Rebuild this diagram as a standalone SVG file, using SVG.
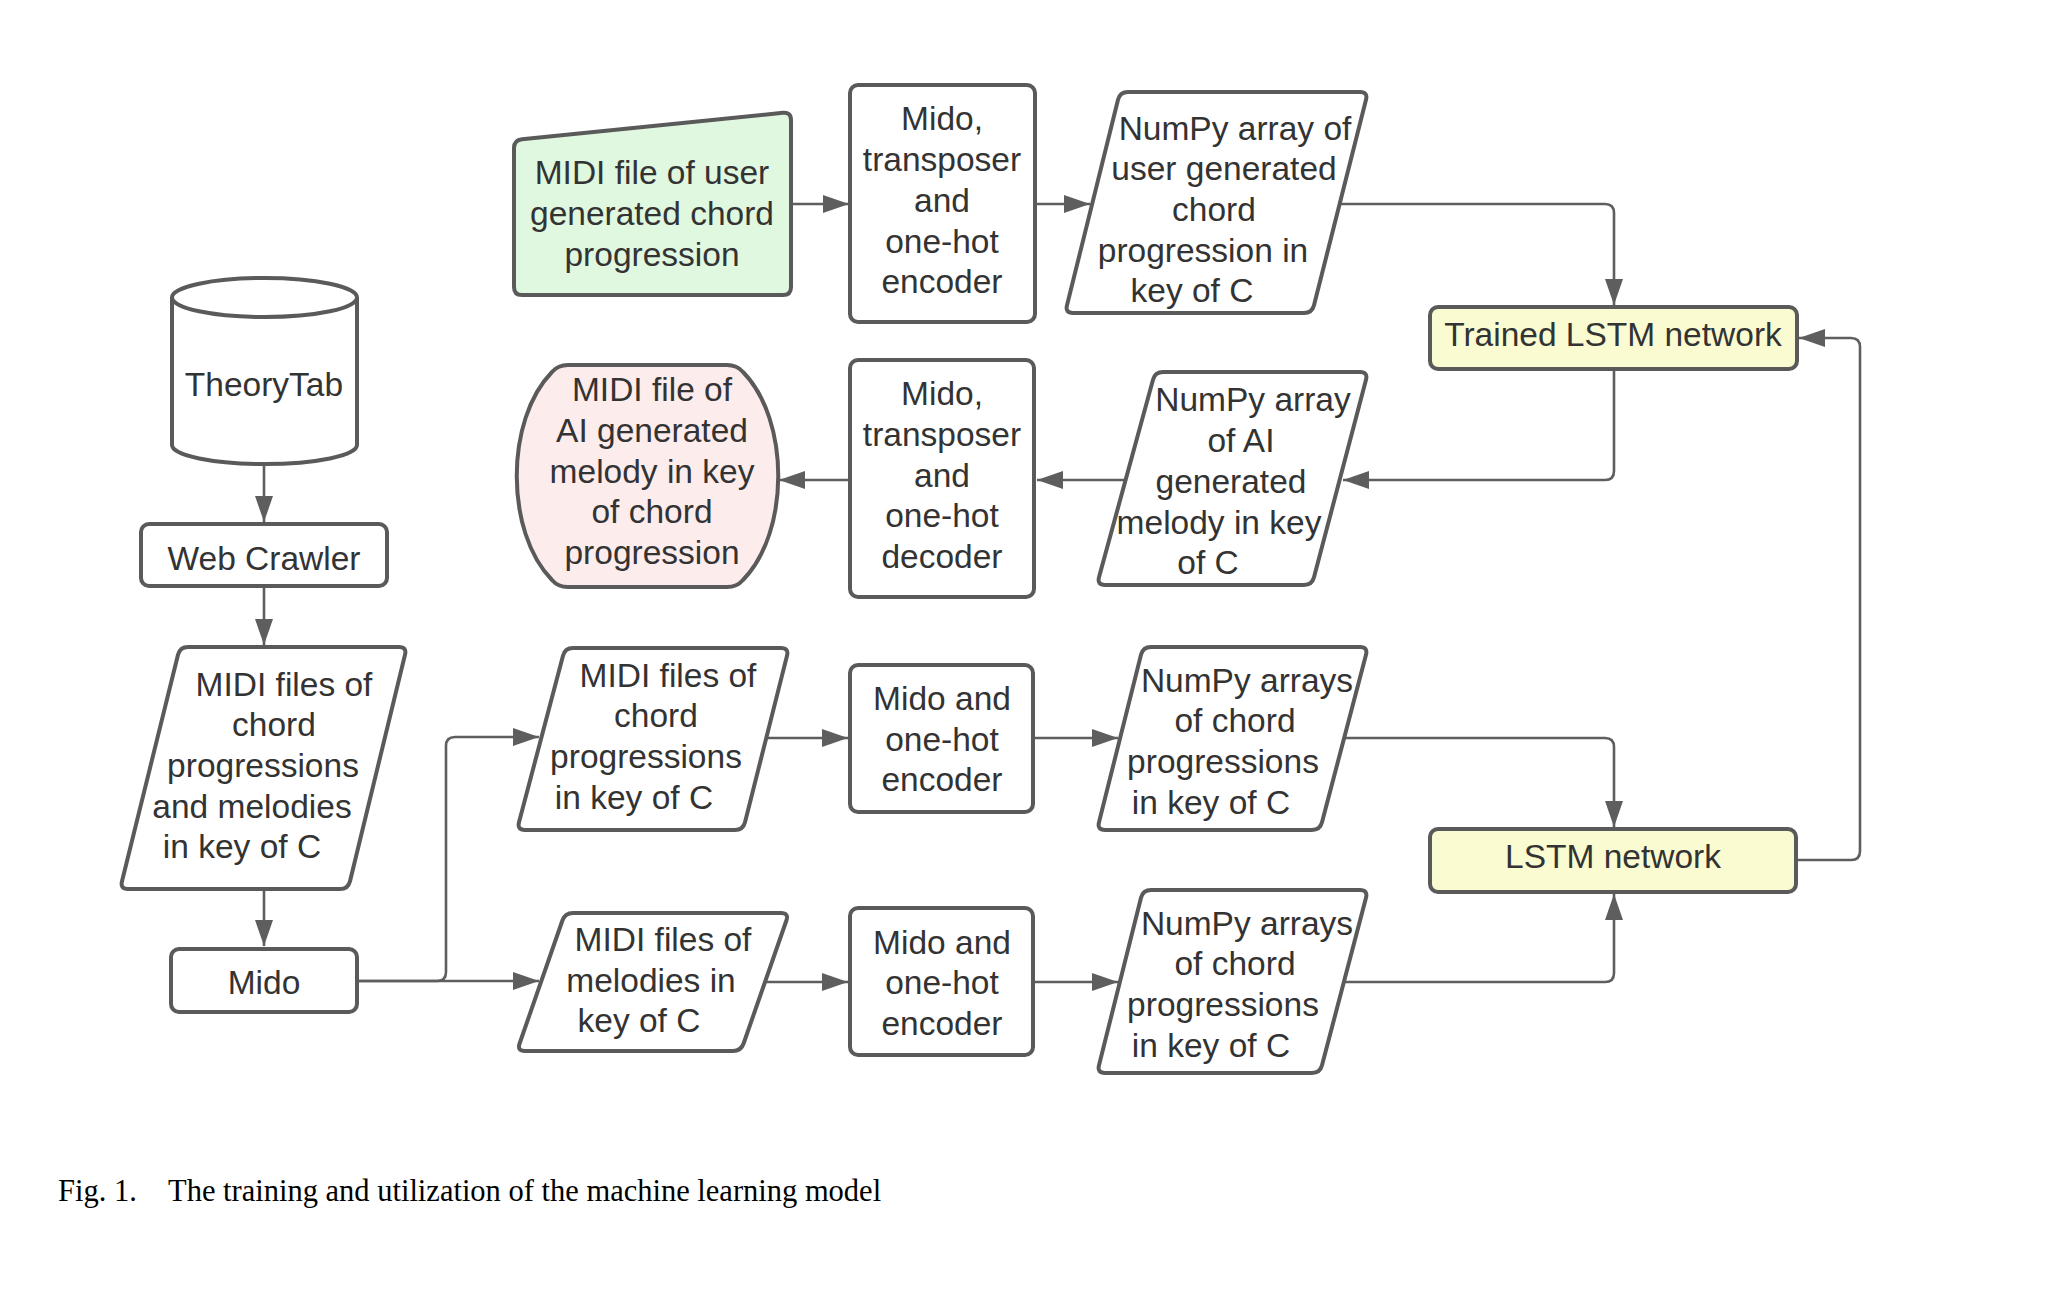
<svg xmlns="http://www.w3.org/2000/svg" width="2062" height="1308" viewBox="0 0 2062 1308">
<style>
  .n { stroke:#5a5a5a; stroke-width:4; fill:#ffffff; stroke-linejoin:round; }
  .green { fill:#e0f7e0; }
  .pink { fill:#fdecec; }
  .yellow { fill:#fafbd0; }
  .t { font-family:"Liberation Sans", Arial, sans-serif; font-size:33.5px; fill:#333333; text-anchor:middle; }
  .c { fill:none; stroke:#5e5e5e; stroke-width:2.6; marker-end:url(#ah); }
  .cap { font-family:"Liberation Serif", "Times New Roman", serif; font-size:30.5px; fill:#000000; }
</style>
<defs>
  <marker id="ah" markerUnits="userSpaceOnUse" markerWidth="26" markerHeight="18" refX="26" refY="9" orient="auto">
    <path d="M0,0 L26,9 L0,18 Z" fill="#5e5e5e"/>
  </marker>
</defs>
<rect width="2062" height="1308" fill="#ffffff"/>

<g id="connectors">
  <path class="c" d="M791,204 H849"/>
  <path class="c" d="M1035,204 H1090"/>
  <path class="c" d="M1340,204 H1605 Q1614,204 1614,213 V305"/>
  <path class="c" d="M1614,370 V471 Q1614,480 1605,480 H1343"/>
  <path class="c" d="M1126,480 H1037"/>
  <path class="c" d="M850,480 H779"/>
  <path class="c" d="M264,464 V522"/>
  <path class="c" d="M264,587 V645"/>
  <path class="c" d="M264,890 V946"/>
  <path class="c" d="M357,981 H437 Q446,981 446,972 V746 Q446,737 455,737 H539"/>
  <path class="c" d="M357,981 H539"/>
  <path class="c" d="M766,738 H848"/>
  <path class="c" d="M1033,738 H1118"/>
  <path class="c" d="M765,982 H848"/>
  <path class="c" d="M1033,982 H1118"/>
  <path class="c" d="M1344,738 H1605 Q1614,738 1614,747 V827"/>
  <path class="c" d="M1344,982 H1605 Q1614,982 1614,973 V894"/>
  <path class="c" d="M1797,860 H1851 Q1860,860 1860,851 V347 Q1860,338 1851,338 H1799"/>
</g>

<g id="user-midi">
  <path class="n green" d="M514,148 Q514,140 522,139.2 L783,112.8 Q791,112 791,120 V287 Q791,295 783,295 H522 Q514,295 514,287 Z"/>
  <text class="t" x="652" y="184">MIDI file of user</text>
  <text class="t" x="652" y="225">generated chord</text>
  <text class="t" x="652" y="266">progression</text>
</g>

<g id="encoder-top">
  <rect class="n" x="850" y="85" width="185" height="237" rx="8"/>
  <text class="t" x="942" y="130">Mido,</text>
  <text class="t" x="942" y="171">transposer</text>
  <text class="t" x="942" y="212">and</text>
  <text class="t" x="942" y="253">one-hot</text>
  <text class="t" x="942" y="293">encoder</text>
</g>

<g id="numpy-user">
  <path class="n" d="M1128,92 H1360 Q1368,92 1366,99.7 L1314,305.3 Q1312,313 1304,313 H1073 Q1065,313 1067,305.3 L1118,99.7 Q1120,92 1128,92 Z"/>
  <text class="t" x="1235" y="140">NumPy array of</text>
  <text class="t" x="1224" y="180">user generated</text>
  <text class="t" x="1214" y="221">chord</text>
  <text class="t" x="1203" y="262">progression in</text>
  <text class="t" x="1192" y="302">key of C</text>
</g>

<g id="trained-lstm">
  <rect class="n yellow" x="1430" y="307" width="367" height="62" rx="8"/>
  <text class="t" x="1613" y="346">Trained LSTM network</text>
</g>

<g id="ai-midi">
  <path class="n pink" d="M568,365 H727 Q737,365 743,372 C790,420 790,532 743,580 Q737,587 727,587 H568 Q558,587 552,580 C505,532 505,420 552,372 Q558,365 568,365 Z"/>
  <text class="t" x="652" y="401">MIDI file of</text>
  <text class="t" x="652" y="442">AI generated</text>
  <text class="t" x="652" y="483">melody in key</text>
  <text class="t" x="652" y="523">of chord</text>
  <text class="t" x="652" y="564">progression</text>
</g>

<g id="decoder">
  <rect class="n" x="850" y="360" width="184" height="237" rx="8"/>
  <text class="t" x="942" y="405">Mido,</text>
  <text class="t" x="942" y="446">transposer</text>
  <text class="t" x="942" y="487">and</text>
  <text class="t" x="942" y="527">one-hot</text>
  <text class="t" x="942" y="568">decoder</text>
</g>

<g id="numpy-ai">
  <path class="n" d="M1163,372 H1360 Q1368,372 1366,379.7 L1314,577.3 Q1312,585 1304,585 H1105 Q1097,585 1099,577.3 L1153,379.7 Q1155,372 1163,372 Z"/>
  <text class="t" x="1253" y="411">NumPy array</text>
  <text class="t" x="1241" y="452">of AI</text>
  <text class="t" x="1231" y="493">generated</text>
  <text class="t" x="1219" y="534">melody in key</text>
  <text class="t" x="1208" y="574">of C</text>
</g>

<g id="theorytab">
  <path class="n" d="M172,297 V445 A92.5,19 0 0 0 357,445 V297"/>
  <ellipse class="n" cx="264.5" cy="297.5" rx="92.5" ry="19.5"/>
  <text class="t" x="264" y="396">TheoryTab</text>
</g>

<g id="web-crawler">
  <rect class="n" x="141" y="524" width="246" height="62" rx="8"/>
  <text class="t" x="264" y="570">Web Crawler</text>
</g>

<g id="midi-all">
  <path class="n" d="M188,647 H399 Q407,647 405,654.8 L350,881.2 Q348,889 340,889 H128 Q120,889 122,881.2 L178,654.8 Q180,647 188,647 Z"/>
  <text class="t" x="284" y="696">MIDI files of</text>
  <text class="t" x="274" y="736">chord</text>
  <text class="t" x="263" y="777">progressions</text>
  <text class="t" x="252" y="818">and melodies</text>
  <text class="t" x="242" y="858">in key of C</text>
</g>

<g id="mido">
  <rect class="n" x="171" y="949" width="186" height="63" rx="8"/>
  <text class="t" x="264" y="994">Mido</text>
</g>

<g id="midi-chords">
  <path class="n" d="M573,648 H781 Q789,648 787,655.7 L745,822.3 Q743,830 735,830 H525 Q517,830 519,822.3 L563,655.7 Q565,648 573,648 Z"/>
  <text class="t" x="668" y="687">MIDI files of</text>
  <text class="t" x="656" y="727">chord</text>
  <text class="t" x="646" y="768">progressions</text>
  <text class="t" x="634" y="809">in key of C</text>
</g>

<g id="midi-melodies">
  <path class="n" d="M573,913 H781 Q789,913 786.4,920.5 L743.6,1043.5 Q741,1051 733,1051 H525 Q517,1051 519.6,1043.5 L562.4,920.5 Q565,913 573,913 Z"/>
  <text class="t" x="663" y="951">MIDI files of</text>
  <text class="t" x="651" y="992">melodies in</text>
  <text class="t" x="639" y="1032">key of C</text>
</g>

<g id="encoder-chords">
  <rect class="n" x="850" y="665" width="183" height="147" rx="8"/>
  <text class="t" x="942" y="710">Mido and</text>
  <text class="t" x="942" y="751">one-hot</text>
  <text class="t" x="942" y="791">encoder</text>
</g>

<g id="encoder-melodies">
  <rect class="n" x="850" y="908" width="183" height="147" rx="8"/>
  <text class="t" x="942" y="954">Mido and</text>
  <text class="t" x="942" y="994">one-hot</text>
  <text class="t" x="942" y="1035">encoder</text>
</g>

<g id="numpy-chords-1">
  <path class="n" d="M1151,647 H1360 Q1368,647 1366,654.7 L1322,822.3 Q1320,830 1312,830 H1105 Q1097,830 1099,822.3 L1141,654.7 Q1143,647 1151,647 Z"/>
  <text class="t" x="1247" y="692">NumPy arrays</text>
  <text class="t" x="1235" y="732">of chord</text>
  <text class="t" x="1223" y="773">progressions</text>
  <text class="t" x="1211" y="814">in key of C</text>
</g>

<g id="numpy-chords-2">
  <path class="n" d="M1151,890 H1360 Q1368,890 1366,897.7 L1322,1065.3 Q1320,1073 1312,1073 H1105 Q1097,1073 1099,1065.3 L1141,897.7 Q1143,890 1151,890 Z"/>
  <text class="t" x="1247" y="935">NumPy arrays</text>
  <text class="t" x="1235" y="975">of chord</text>
  <text class="t" x="1223" y="1016">progressions</text>
  <text class="t" x="1211" y="1057">in key of C</text>
</g>

<g id="lstm">
  <rect class="n yellow" x="1430" y="829" width="366" height="63" rx="8"/>
  <text class="t" x="1613" y="868">LSTM network</text>
</g>

<g id="caption">
  <text class="cap" x="58" y="1201">Fig. 1.</text>
  <text class="cap" x="168" y="1201">The training and utilization of the machine learning model</text>
</g>
</svg>
